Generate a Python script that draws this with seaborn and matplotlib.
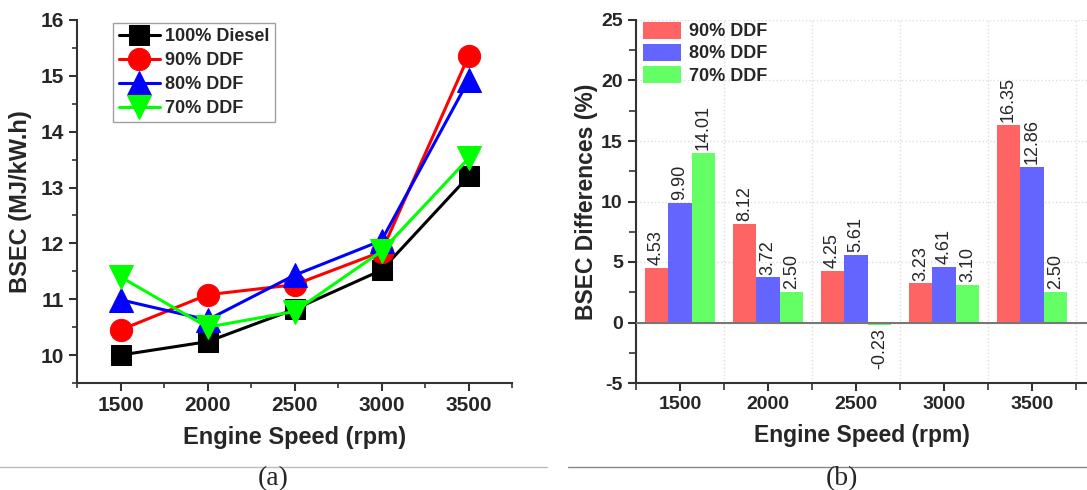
import pandas as pd
import matplotlib.pyplot as plt
import seaborn as sns
from matplotlib.lines import Line2D
from matplotlib.ticker import MultipleLocator, AutoMinorLocator

# values
speeds = [1500, 2000, 2500, 3000, 3500]
diesel = [10.00, 10.24, 10.82, 11.52, 13.20]
ddf90 = [10.45, 11.08, 11.26, 11.85, 15.35]
ddf80 = [10.99, 10.63, 11.43, 12.05, 14.92]
ddf70 = [11.40, 10.50, 10.78, 11.86, 13.52]

diff90 = [4.53, 8.12, 4.25, 3.23, 16.35]
diff80 = [9.90, 3.72, 5.61, 4.61, 12.86]
diff70 = [14.01, 2.50, -0.23, 3.10, 2.50]

sns.set_style("ticks")
plt.rcParams['font.family'] = ['Liberation Sans', 'DejaVu Sans']
plt.rcParams['font.weight'] = 'bold'
plt.rcParams['axes.labelweight'] = 'bold'
plt.rcParams['axes.linewidth'] = 1.5
plt.rcParams['axes.unicode_minus'] = False

fig = plt.figure(figsize=(10.87, 4.9), dpi=100)
W, H = 1087, 490
ax1 = fig.add_axes([77 / W, 107 / H, 435 / W, 363 / H])
ax2 = fig.add_axes([636 / W, 107 / H, 451 / W, 363 / H])

# ---- (a) BSEC lines
series = [
    ('100% Diesel', diesel, 'black', 's', 15),
    ('90% DDF', ddf90, 'red', 'o', 16),
    ('80% DDF', ddf80, 'blue', '^', 17),
    ('70% DDF', ddf70, '#00FF00', 'v', 17),
]
for name, vals, col, mk, ms in series:
    sns.lineplot(x=speeds, y=vals, ax=ax1, color=col, marker=mk, markersize=ms,
                 markeredgecolor=col, linewidth=2.2, label=name)

ax1.set_xlim(1250, 3750)
ax1.set_ylim(9.5, 16)
ax1.set_xticks(speeds)
ax1.xaxis.set_minor_locator(MultipleLocator(250))
ax1.yaxis.set_major_locator(MultipleLocator(1))
ax1.yaxis.set_minor_locator(MultipleLocator(0.5))
ax1.tick_params(which='major', length=6, width=1.5, labelsize=15, color='#333333')
ax1.tick_params(which='minor', length=3.5, width=1.2, color='#333333')
for s in ['top', 'right']:
    ax1.spines[s].set_visible(False)
for s in ['left', 'bottom']:
    ax1.spines[s].set_color('#333333')
ax1.set_xlabel('Engine Speed (rpm)', fontsize=17, labelpad=8)
ax1.set_ylabel('BSEC (MJ/kW.h)', fontsize=17, labelpad=6)
leg1 = ax1.legend(loc='upper left', bbox_to_anchor=(0.083, 0.992), fontsize=13,
                  frameon=True, fancybox=False, edgecolor='#888888',
                  handlelength=2.3, handletextpad=0.3, labelspacing=0.38,
                  borderpad=0.3, borderaxespad=0)
leg1.get_frame().set_linewidth(1.0)

# ---- (b) BSEC differences bars
groups = ['90% DDF', '80% DDF', '70% DDF']
bar_colors = ['#FF6464', '#6464FF', '#64FF64']
df = pd.DataFrame({
    'speed': [str(s) for s in speeds] * 3,
    'diff': diff90 + diff80 + diff70,
    'fuel': [g for g in groups for _ in speeds],
})
sns.barplot(data=df, x='speed', y='diff', hue='fuel', ax=ax2, palette=bar_colors,
            saturation=1, width=0.8, linewidth=0, zorder=2)
for c in ax2.containers:
    ax2.bar_label(c, fmt='%.2f', rotation=90, padding=2, fontsize=13,
                  fontweight='normal')

ax2.axhline(0, color='#777777', linewidth=1.5, zorder=3)
ax2.set_xlim(-0.5, 4.625)
ax2.set_ylim(-5, 25)
ax2.yaxis.set_major_locator(MultipleLocator(5))
ax2.yaxis.set_minor_locator(AutoMinorLocator(2))
ax2.xaxis.set_minor_locator(MultipleLocator(1, offset=0.5))
ax2.grid(which='major', axis='y', color='#DDDDDD', linestyle=':', linewidth=1, zorder=0)
ax2.grid(which='minor', axis='x', color='#DDDDDD', linestyle=':', linewidth=1, zorder=0)
ax2.tick_params(which='major', length=6, width=1.5, labelsize=14, color='#333333')
ax2.tick_params(which='minor', length=5, width=1.2, color='#333333')
for s in ['top', 'right']:
    ax2.spines[s].set_visible(False)
for s in ['left', 'bottom']:
    ax2.spines[s].set_color('#333333')
ax2.set_xlabel('Engine Speed (rpm)', fontsize=16.5, labelpad=8)
ax2.set_ylabel('BSEC Differences (%)', fontsize=16.5, labelpad=2)
ax2.legend(loc='upper left', bbox_to_anchor=(0.016, 0.995), fontsize=13,
           frameon=False, handlelength=2.1, handleheight=1.05, handletextpad=0.45,
           labelspacing=0.2, borderpad=0, borderaxespad=0)

# caption rules and labels
fig.add_artist(Line2D([0, 547 / W], [23 / H, 23 / H], color='#BBBBBB', linewidth=1))
fig.add_artist(Line2D([568 / W, 1], [23 / H, 23 / H], color='#888888', linewidth=1))
fig.text(273 / W, 11 / H, '(a)', ha='center', va='center', fontsize=20,
         family='Liberation Serif', fontweight='normal')
fig.text(842 / W, 11 / H, '(b)', ha='center', va='center', fontsize=20,
         family='Liberation Serif', fontweight='normal')

fig.savefig('out.png', dpi=100)
